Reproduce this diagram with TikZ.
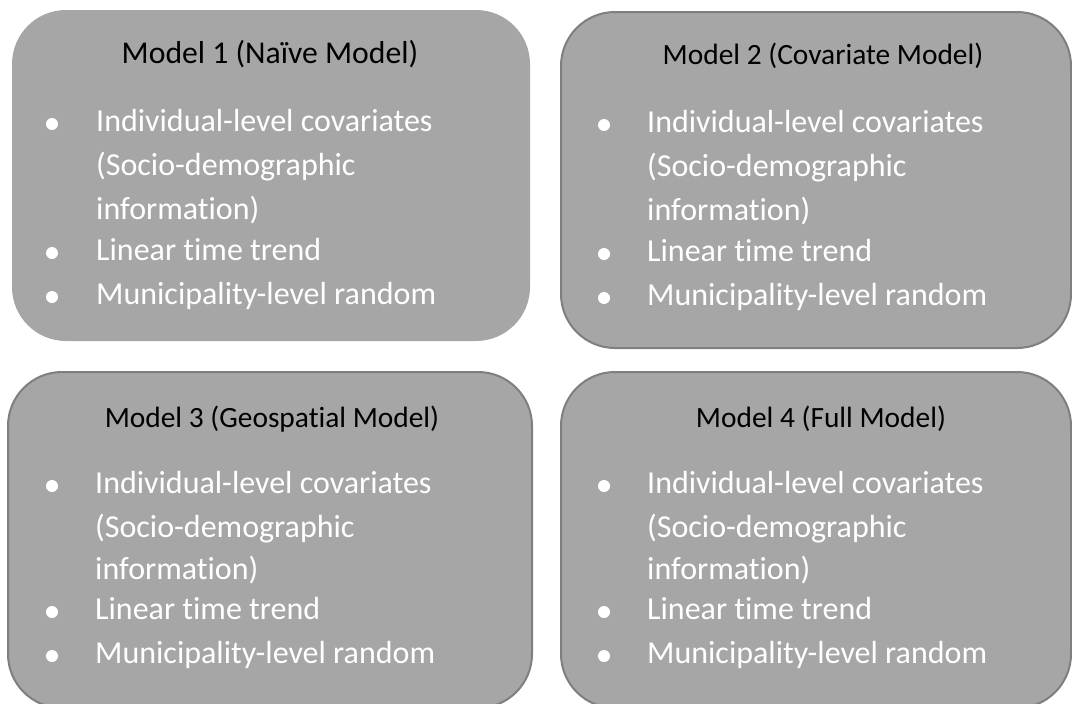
\documentclass[tikz,border=0pt]{standalone}
\usepackage{fontspec}
\setmainfont{Carlito}[RawFeature={-liga;-clig;-dlig;-calt}]
\definecolor{boxfill}{HTML}{A6A6A6}
\definecolor{boxline}{HTML}{7F7F7F}
\begin{document}
\begin{tikzpicture}[x=1pt,y=-1pt,
  panel/.style={rounded corners=54pt, fill=boxfill, draw=boxline, line width=2pt, inner sep=0},
  title/.style={anchor=base, text=black, inner sep=0, font=\fontsize{29.4}{35}\selectfont},
  item/.style={anchor=base west, text=white, inner sep=0, font=\fontsize{32}{38}\selectfont},
  dot/.style={circle, fill=white, inner sep=0, minimum size=12pt}]
\useasboundingbox (0,0) rectangle (1072,704);
\clip (0,0) rectangle (1072,704);

% panels
\node[panel, draw=none, minimum width=518pt, minimum height=331pt] (m1) at (271,175.5) {};
\node[panel, minimum width=510pt, minimum height=336pt] (m2) at (816,180) {};
\node[panel, minimum width=524pt, minimum height=336pt] (m3) at (270,540) {};
\node[panel, minimum width=510pt, minimum height=336pt] (m4) at (816,540) {};

% Model 1
\node[title, font=\fontsize{31.7}{38}\selectfont] (t1) at (270,63) {Model 1 (Naïve Model)};
\node[dot] (d1a) at (52,124) {};
\node[item] (i1a) at (96,131) {Individual-level covariates};
\node[item] (i1b) at (96,175) {(Socio-demographic};
\node[item] (i1c) at (96,219) {informat\kern0pt ion)};
\node[dot] (d1b) at (52,253) {};
\node[item] (i1d) at (96,260) {Linear t\kern0pt ime trend};
\node[dot] (d1c) at (52,297) {};
\node[item] (i1e) at (96,304) {Municipality-level random};

% Model 2
\node[title] (t2) at (823,64) {Model 2 (Covariate Model)};
\node[dot] (d2a) at (604,125) {};
\node[item] (i2a) at (647,132) {Individual-level covariates};
\node[item] (i2b) at (647,176) {(Socio-demographic};
\node[item] (i2c) at (647,220) {informat\kern0pt ion)};
\node[dot] (d2b) at (604,254) {};
\node[item] (i2d) at (647,261) {Linear t\kern0pt ime trend};
\node[dot] (d2c) at (604,298) {};
\node[item] (i2e) at (647,305) {Municipality-level random};

% Model 3
\node[title] (t3) at (272,427) {Model 3 (Geospat\kern0pt ial Model)};
\node[dot] (d3a) at (52,486) {};
\node[item] (i3a) at (95,493) {Individual-level covariates};
\node[item] (i3b) at (95,537) {(Socio-demographic};
\node[item] (i3c) at (95,579) {informat\kern0pt ion)};
\node[dot] (d3b) at (52,612) {};
\node[item] (i3d) at (95,619) {Linear t\kern0pt ime trend};
\node[dot] (d3c) at (52,656) {};
\node[item] (i3e) at (95,663) {Municipality-level random};

% Model 4
\node[title] (t4) at (821,427) {Model 4 (Full Model)};
\node[dot] (d4a) at (604,486) {};
\node[item] (i4a) at (647,493) {Individual-level covariates};
\node[item] (i4b) at (647,537) {(Socio-demographic};
\node[item] (i4c) at (647,579) {informat\kern0pt ion)};
\node[dot] (d4b) at (604,612) {};
\node[item] (i4d) at (647,619) {Linear t\kern0pt ime trend};
\node[dot] (d4c) at (604,656) {};
\node[item] (i4e) at (647,663) {Municipality-level random};
\end{tikzpicture}
\end{document}
